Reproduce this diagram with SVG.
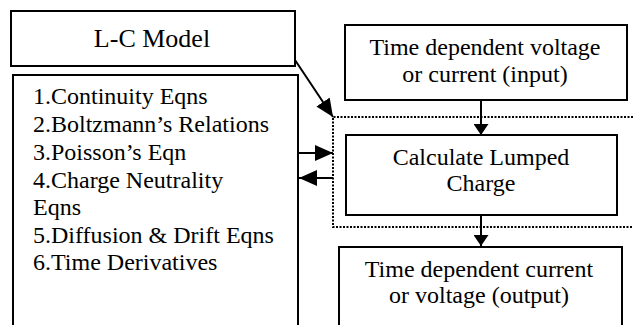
<svg xmlns="http://www.w3.org/2000/svg" width="633" height="325" viewBox="0 0 633 325">
<style>
.box{fill:#fff;stroke:#000;stroke-width:2}
.t{font-family:"Liberation Serif","Times New Roman",serif;font-size:24px;fill:#000}
.c{text-anchor:middle}
.ln{stroke:#000;stroke-width:2;fill:none}
.dot{stroke:#000;stroke-width:2;fill:none;stroke-dasharray:2 1.5}
</style>
<defs>
<marker id="big" viewBox="0 0 18 16" refX="18" refY="8" markerWidth="18" markerHeight="16" markerUnits="userSpaceOnUse" orient="auto"><path d="M0,0 L18,8 L0,16 z" fill="#000"/></marker>
<marker id="small" viewBox="0 0 11 15" refX="11" refY="7.5" markerWidth="11" markerHeight="15" markerUnits="userSpaceOnUse" orient="auto"><path d="M0,0 L11,7.5 L0,15 z" fill="#000"/></marker>
</defs>
<rect width="633" height="325" fill="#fff"/>
<g id="region">
<path class="dot" d="M633,117 H333 V227 H633"/>
</g>
<g id="lc-model">
<rect class="box" x="11" y="11" width="284" height="55"/>
<text class="t c" x="152" y="47" style="font-size:26px">L-C Model</text>
</g>
<g id="equations">
<rect class="box" x="13" y="75" width="285" height="260"/>
<text class="t" x="33" y="104">1.Continuity Eqns</text>
<text class="t" x="33" y="132">2.Boltzmann’s Relations</text>
<text class="t" x="33" y="160">3.Poisson’s Eqn</text>
<text class="t" x="33" y="187.5">4.Charge Neutrality</text>
<text class="t" x="33" y="215">Eqns</text>
<text class="t" x="33" y="242.5">5.Diffusion &amp; Drift Eqns</text>
<text class="t" x="33" y="270">6.Time Derivatives</text>
</g>
<g id="input">
<rect class="box" x="345" y="25" width="282" height="75"/>
<text class="t c" x="485" y="55">Time dependent voltage</text>
<text class="t c" x="485" y="82">or current (input)</text>
</g>
<g id="calc">
<rect class="box" x="346" y="135" width="271" height="80"/>
<text class="t c" x="481" y="165">Calculate Lumped</text>
<text class="t c" x="481" y="191">Charge</text>
</g>
<g id="output">
<rect class="box" x="339" y="247" width="283" height="90"/>
<text class="t c" x="479" y="277">Time dependent current</text>
<text class="t c" x="479" y="303">or voltage (output)</text>
</g>
<g id="connectors">
<line class="ln" x1="295" y1="60" x2="333" y2="117" marker-end="url(#big)"/>
<line class="ln" x1="298" y1="153" x2="333" y2="153" marker-end="url(#big)"/>
<line class="ln" x1="333" y1="178" x2="299" y2="178" marker-end="url(#big)"/>
<line class="ln" x1="481" y1="100" x2="481" y2="135" marker-end="url(#small)"/>
<line class="ln" x1="481" y1="215" x2="481" y2="246" marker-end="url(#small)"/>
</g>
</svg>
